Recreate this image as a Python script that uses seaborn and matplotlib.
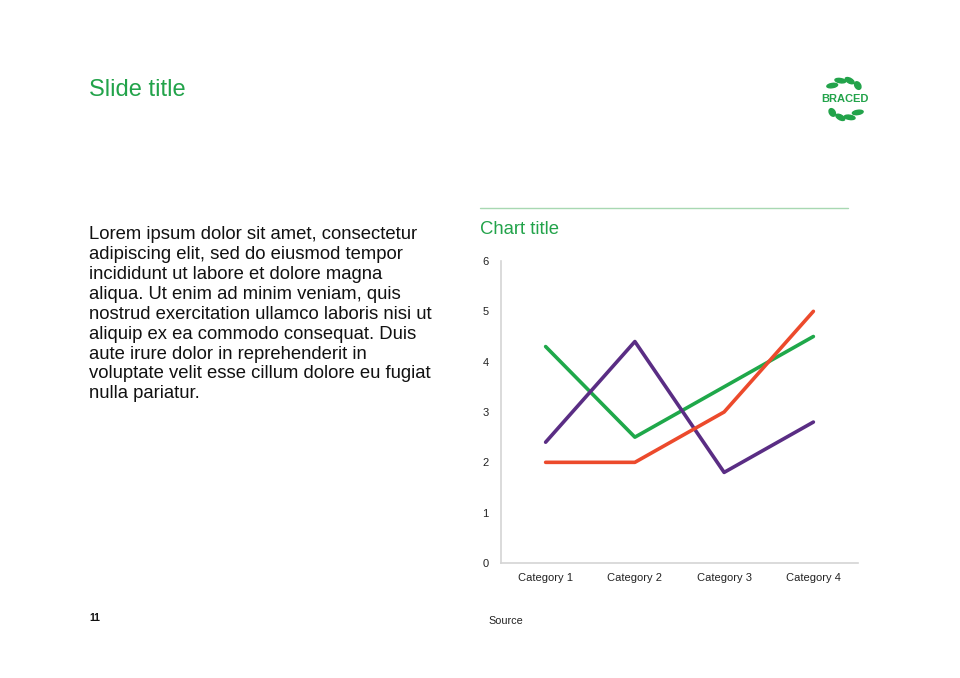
import numpy as np
import pandas as pd
import matplotlib
matplotlib.use("Agg")
import matplotlib.pyplot as plt
import seaborn as sns
from matplotlib.patches import Ellipse

categories = ["Category 1", "Category 2", "Category 3", "Category 4"]
series_green = [4.3, 2.5, 3.5, 4.5]
series_purple = [2.4, 4.4, 1.8, 2.8]
series_red = [2.0, 2.0, 3.0, 5.0]
y_ticks = [0, 1, 2, 3, 4, 5, 6]

sns.set_theme(style="white")
plt.rcParams['font.family'] = ['Liberation Sans', 'DejaVu Sans']

rows = []
for name, vals in [("Series 1", series_green), ("Series 2", series_purple), ("Series 3", series_red)]:
    for i, (c, v) in enumerate(zip(categories, vals)):
        rows.append({"series": name, "idx": i, "category": c, "value": v})
df = pd.DataFrame(rows)

palette = {"Series 1": "#1fa84a", "Series 2": "#5a2d84", "Series 3": "#ec4a2c"}

fig = plt.figure(figsize=(9.6, 6.78), dpi=100)
ax = fig.add_axes([501/960, 1-563/678, (858-501)/960, (563-261)/678])

sns.lineplot(data=df, x="idx", y="value", hue="series", palette=palette,
             linewidth=2.6, legend=False, ax=ax, sort=False)

ax.set_xlim(-0.5, 3.5)
ax.set_ylim(0, 6)
ax.set_xticks(range(len(categories)))
ax.set_xticklabels(categories)
ax.set_yticks(y_ticks)
ax.set_xlabel("")
ax.set_ylabel("")
ax.tick_params(axis="both", length=0, labelsize=8, colors="#222222")
ax.tick_params(axis="y", pad=9)
ax.tick_params(axis="x", pad=7.5)
for s in ["top", "right"]:
    ax.spines[s].set_visible(False)
for s in ["left", "bottom"]:
    ax.spines[s].set_color("#d4d4d4")
    ax.spines[s].set_linewidth(1.2)
ax.grid(False)

green = "#22a34a"
fig.text(89/960, 1-89.5/678, "Slide title", fontsize=17, color=green, va="center", ha="left")

body = ("Lorem ipsum dolor sit amet, consectetur\n"
        "adipiscing elit, sed do eiusmod tempor\n"
        "incididunt ut labore et dolore magna\n"
        "aliqua. Ut enim ad minim veniam, quis\n"
        "nostrud exercitation ullamco laboris nisi ut\n"
        "aliquip ex ea commodo consequat. Duis\n"
        "aute irure dolor in reprehenderit in\n"
        "voluptate velit esse cillum dolore eu fugiat\n"
        "nulla pariatur.")
fig.text(89/960, 1-226/678, body, fontsize=13.3, color="#111111", va="top", ha="left",
         linespacing=1.225)

fig.add_artist(plt.Line2D([480/960, 848/960], [1-208/678, 1-208/678],
                          transform=fig.transFigure, color="#a8d8b2", linewidth=1))
fig.text(480/960, 1-229.5/678, "Chart title", fontsize=13.3, color=green, va="center", ha="left")

fig.text(488/960, 1-621/678, "Source", fontsize=7.8, color="#222222", va="center", ha="left")
fig.text(89/960, 1-618/678, "11", fontsize=7.5, color="#111111", va="center", ha="left",
         fontweight="bold")

# Logo
cx, cy = 845, 99
fig.text(cx/960, 1-cy/678, "BRACED", fontsize=8, color=green, fontweight="bold",
         va="center", ha="center")
for ang in [45, 75, 105, 135, 225, 255, 285, 315]:
    r = 19
    x = cx + r*0.95*np.cos(np.radians(ang))
    y = cy - r*np.sin(np.radians(ang))
    e = Ellipse((x/960, 1-y/678), 11/960, 4.2/678, angle=ang+60,
                transform=fig.transFigure, color=green)
    fig.add_artist(e)

fig.savefig("out.png", dpi=100, facecolor="white")
